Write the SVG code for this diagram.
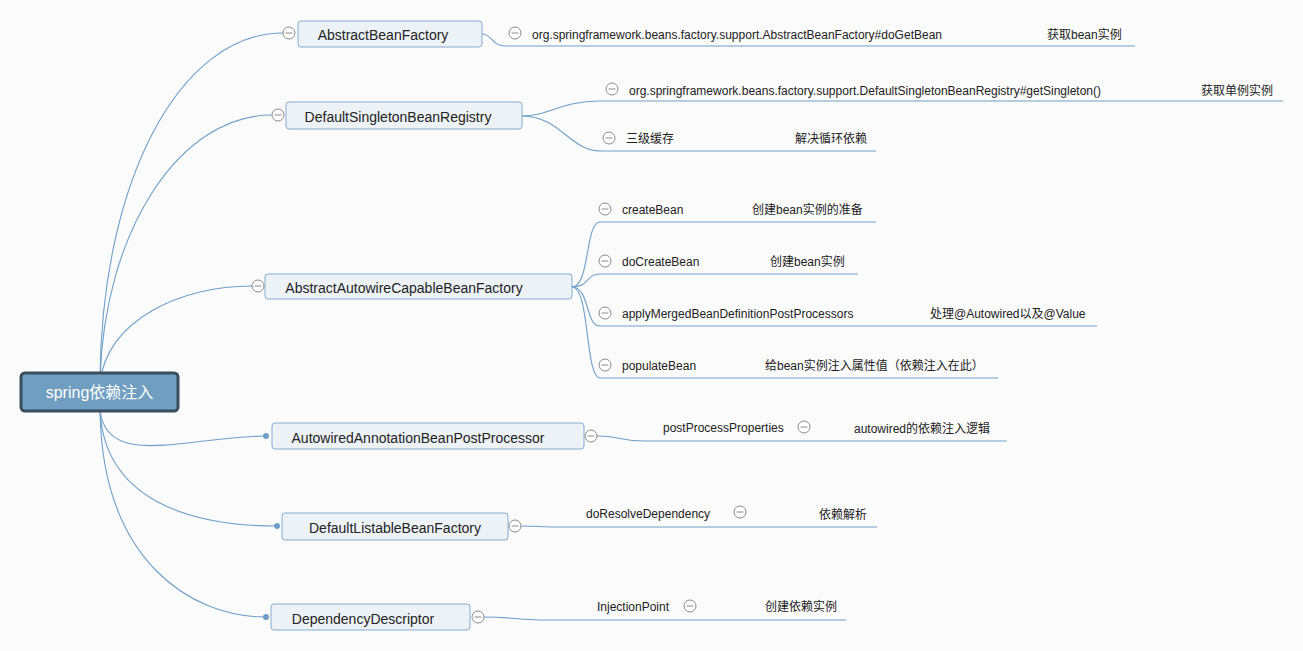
<svg xmlns="http://www.w3.org/2000/svg" width="1303" height="651" viewBox="0 0 1303 651">
<defs>
<style>
.bg{fill:#fbfbfb}
.ln{fill:none;stroke:#6f9fc8;stroke-width:1.1}
.nd{fill:#edf2f7;stroke:#85acd0;stroke-width:1}
.t{font-family:"Liberation Sans",Arial,"Noto Sans CJK SC",sans-serif;font-size:14px;fill:#222}
.lt{font-family:"Liberation Sans",Arial,"Noto Sans CJK SC",sans-serif;font-size:12px;fill:#222}
.rt{font-family:"Liberation Sans",Arial,"Noto Sans CJK SC",sans-serif;font-size:16px;fill:#fff}
.cc{fill:#fff;stroke:#8a8a8a;stroke-width:1}
.cm{stroke:#8a8a8a;stroke-width:1}
.dot{fill:#6f9fc8}
</style>
<g id="col">
<circle class="cc" cx="0" cy="0" r="6"/>
<line class="cm" x1="-3.5" y1="0" x2="3.5" y2="0"/>
</g>
</defs>
<rect class="bg" x="0" y="0" width="1303" height="651"/>
<g id="connectors">
<path class="ln" d="M100,378 C102,180 180,33 283,33"/>
<path class="ln" d="M100,380 C104,230 180,115 272,115"/>
<path class="ln" d="M100,382 C108,320 180,286 252,286"/>
<path class="ln" d="M100,410 C106,470 190,436 266,436"/>
<path class="ln" d="M100,410 C104,500 190,526 277,526"/>
<path class="ln" d="M100,410 C102,560 190,617 266,617"/>
<path class="ln" d="M482,34 C492,34 492,46 505,46 L1135,46"/>
<path class="ln" d="M522,116 C550,116 560,101 600,101 L1283,101"/>
<path class="ln" d="M522,116 C560,116 570,151 600,151 L876,151"/>
<path class="ln" d="M572,287 C590,287 585,222 600,222 L876,222"/>
<path class="ln" d="M572,287 C590,287 585,274 600,274 L858,274"/>
<path class="ln" d="M572,287 C590,287 585,326 600,326 L1097,326"/>
<path class="ln" d="M572,287 C590,287 585,378 600,378 L998,378"/>
<path class="ln" d="M597,436 C620,436 620,441 645,441 L1007,441"/>
<path class="ln" d="M521,526 C540,526 540,527 560,527 L877,527"/>
<path class="ln" d="M484,617 C510,617 520,620 545,620 L846,620"/>
</g>
<g id="root">
<rect x="21" y="373" width="157" height="38" rx="4" fill="#6f9ec0" stroke="#3b4d5d" stroke-width="3"/>
<text class="rt" x="99.5" y="398" text-anchor="middle">spring依赖注入</text>
</g>
<g id="n1">
<rect class="nd" x="298" y="21" width="184" height="26" rx="3"/>
<text class="t" x="383" y="40" text-anchor="middle">AbstractBeanFactory</text>
<use href="#col" x="289" y="33"/>
</g>
<g id="n1a">
<use href="#col" x="515" y="33"/>
<text class="lt" x="532" y="39">org.springframework.beans.factory.support.AbstractBeanFactory#doGetBean</text>
<text class="lt" x="1047" y="39">获取bean实例</text>
</g>
<g id="n2">
<rect class="nd" x="286" y="102" width="236" height="27" rx="3"/>
<text class="t" x="398" y="122" text-anchor="middle">DefaultSingletonBeanRegistry</text>
<use href="#col" x="278" y="115"/>
</g>
<g id="n2a">
<use href="#col" x="612" y="89"/>
<text class="lt" x="629" y="95">org.springframework.beans.factory.support.DefaultSingletonBeanRegistry#getSingleton()</text>
<text class="lt" x="1201" y="95">获取单例实例</text>
</g>
<g id="n2b">
<use href="#col" x="609" y="138"/>
<text class="lt" x="626" y="143">三级缓存</text>
<text class="lt" x="795" y="143">解决循环依赖</text>
</g>
<g id="n3">
<rect class="nd" x="265" y="274" width="307" height="25" rx="3"/>
<text class="t" x="404" y="293" text-anchor="middle">AbstractAutowireCapableBeanFactory</text>
<use href="#col" x="258" y="286"/>
</g>
<g id="n3a">
<use href="#col" x="605" y="209"/>
<text class="lt" x="622" y="214">createBean</text>
<text class="lt" x="752" y="214">创建bean实例的准备</text>
</g>
<g id="n3b">
<use href="#col" x="605" y="261"/>
<text class="lt" x="622" y="266">doCreateBean</text>
<text class="lt" x="770" y="266">创建bean实例</text>
</g>
<g id="n3c">
<use href="#col" x="605" y="313"/>
<text class="lt" x="622" y="318">applyMergedBeanDefinitionPostProcessors</text>
<text class="lt" x="930" y="318">处理@Autowired以及@Value</text>
</g>
<g id="n3d">
<use href="#col" x="605" y="365"/>
<text class="lt" x="622" y="370">populateBean</text>
<text class="lt" x="765" y="370">给bean实例注入属性值（依赖注入在此）</text>
</g>
<g id="n4">
<rect class="nd" x="272" y="423" width="312" height="26" rx="3"/>
<text class="t" x="418" y="443" text-anchor="middle">AutowiredAnnotationBeanPostProcessor</text>
<circle class="dot" cx="266" cy="436" r="3"/>
<use href="#col" x="591" y="436"/>
</g>
<g id="n4a">
<text class="lt" x="663" y="432">postProcessProperties</text>
<use href="#col" x="804" y="427"/>
<text class="lt" x="854" y="433">autowired的依赖注入逻辑</text>
</g>
<g id="n5">
<rect class="nd" x="282" y="513" width="226" height="27" rx="3"/>
<text class="t" x="395" y="533" text-anchor="middle">DefaultListableBeanFactory</text>
<circle class="dot" cx="277" cy="526" r="3"/>
<use href="#col" x="515" y="526"/>
</g>
<g id="n5a">
<text class="lt" x="586" y="518">doResolveDependency</text>
<use href="#col" x="740" y="512"/>
<text class="lt" x="819" y="519">依赖解析</text>
</g>
<g id="n6">
<rect class="nd" x="271" y="604" width="199" height="26" rx="3"/>
<text class="t" x="363" y="624" text-anchor="middle">DependencyDescriptor</text>
<circle class="dot" cx="266" cy="617" r="3"/>
<use href="#col" x="478" y="617"/>
</g>
<g id="n6a">
<text class="lt" x="597" y="611">InjectionPoint</text>
<use href="#col" x="690" y="606"/>
<text class="lt" x="765" y="611">创建依赖实例</text>
</g>
</svg>
